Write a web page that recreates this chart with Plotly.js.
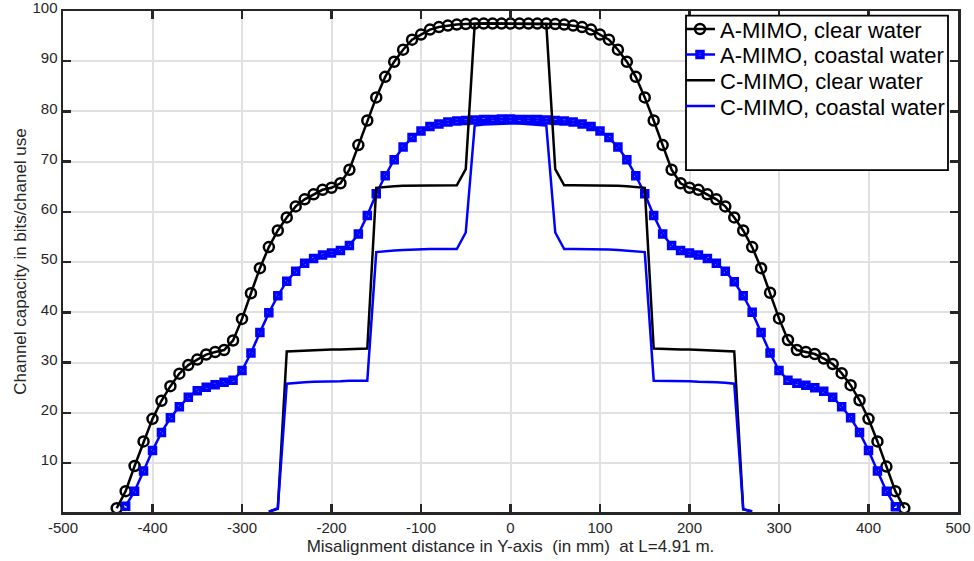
<!DOCTYPE html>
<html>
<head>
<meta charset="utf-8">
<script src="https://cdn.plot.ly/plotly-3.0.1.min.js"></script>
<style>
html, body { margin: 0; padding: 0; background: #ffffff; }
#chart { width: 974px; height: 561px; }
</style>
</head>
<body>
<div id="chart"></div>
<script>
// ---------- data ----------
const seriesNames = ['A-MIMO, clear water', 'A-MIMO, coastal water', 'C-MIMO, clear water', 'C-MIMO, coastal water'];

const xAClear = [-440,-430,-420,-410,-400,-390,-380,-370,-360,-350,-340,-330,-320,-310,-300,-290,-280,-270,-260,-250,-240,-230,-220,-210,-200,-190,-180,-170,-160,-150,-140,-130,-120,-110,-100,-90,-80,-70,-60,-50,-40,-30,-20,-10,0,10,20,30,40,50,60,70,80,90,100,110,120,130,140,150,160,170,180,190,200,210,220,230,240,250,260,270,280,290,300,310,320,330,340,350,360,370,380,390,400,410,420,430,440];
const yAClear = [1.0,4.4,9.4,14.3,18.8,22.4,25.3,27.8,29.5,30.6,31.6,32.1,32.5,34.4,38.7,43.8,48.8,53.0,56.3,58.9,61.1,62.5,63.5,64.4,64.8,65.7,68.4,73.3,78.2,82.8,86.9,89.9,92.3,94.3,95.3,96.3,96.8,97.1,97.3,97.4,97.5,97.5,97.5,97.5,
  97.5,
  97.5,97.5,97.5,97.5,97.4,97.3,97.1,96.8,96.3,95.3,94.3,92.3,89.9,86.9,82.8,78.2,73.3,68.4,65.7,64.8,64.4,63.5,62.5,61.1,58.9,56.3,53.0,48.8,43.9,38.8,34.5,32.5,32.1,31.7,30.8,29.7,27.9,25.5,22.5,18.8,14.3,9.3,4.4,1.0];

const xACoastal = [-430,-420,-410,-400,-390,-380,-370,-360,-350,-340,-330,-320,-310,-300,-290,-280,-270,-260,-250,-240,-230,-220,-210,-200,-190,-180,-170,-160,-150,-140,-130,-120,-110,-100,-90,-80,-70,-60,-50,-40,-30,-20,-10,0,10,20,30,40,50,60,70,80,90,100,110,120,130,140,150,160,170,180,190,200,210,220,230,240,250,260,270,280,290,300,310,320,330,340,350,360,370,380,390,400,410,420,430];
const yACoastal = [1.4,4.4,8.4,12.5,16.1,19.0,21.2,23.1,24.4,25.1,25.6,26.1,26.5,28.4,31.9,36.0,39.9,43.3,46.2,48.2,49.8,50.7,51.4,51.8,52.3,53.3,55.6,59.3,63.6,67.2,70.4,72.9,74.8,76.1,77.0,77.5,77.9,78.1,78.2,78.3,78.4,78.4,78.5,
  78.5,
  78.4,78.4,78.4,78.3,78.2,78.1,77.9,77.5,77.0,76.1,74.8,72.9,70.4,67.2,63.6,59.3,55.6,53.3,52.3,51.8,51.4,50.7,49.8,48.2,46.1,43.3,40.0,36.0,31.9,28.4,26.5,25.9,25.5,25.0,24.3,23.1,21.2,19.0,16.1,12.5,8.4,4.4,1.3];

const xC = [-270,-260,-250,-240,-230,-220,-210,-200,-190,-180,-170,-160,-150,-140,-130,-120,-110,-100,-90,-80,-70,-60,-50,-40,-30,-20,-10,0,10,20,30,40,50,60,70,80,90,100,110,120,130,140,150,160,170,180,190,200,210,220,230,240,250,260,270];
const yCClear = [0.3,0.9,32.2,32.3,32.4,32.5,32.5,32.6,32.6,32.7,32.7,32.8,64.8,65.0,65.1,65.2,65.2,65.3,65.3,65.3,65.3,65.3,68.5,97.4,97.5,97.5,97.5,
  97.5,
  97.5,97.5,97.5,97.4,68.5,65.3,65.3,65.3,65.3,65.3,65.2,65.2,65.1,65.0,64.8,32.8,32.7,32.7,32.6,32.6,32.5,32.5,32.4,32.3,32.2,0.8,0.3];
const yCCoastal = [0.3,1.0,25.8,26.0,26.1,26.2,26.2,26.3,26.3,26.4,26.4,26.4,52.0,52.2,52.3,52.4,52.5,52.5,52.6,52.6,52.6,52.6,55.9,77.2,77.4,77.5,77.6,
  77.6,
  77.6,77.5,77.4,77.2,55.9,52.6,52.6,52.6,52.6,52.5,52.5,52.4,52.3,52.2,52.0,26.4,26.4,26.4,26.3,26.3,26.2,26.2,26.1,26.0,25.8,0.8,0.4];

const xTickVals = [-500,-400,-300,-200,-100,0,100,200,300,400,500];
const xTickText = ['-500','-400','-300','-200','-100','0','100','200','300','400','500'];
const yTickVals = [10,20,30,40,50,60,70,80,90,100];
const yTickText = ['10','20','30','40','50','60','70','80','90','100'];

const xTitle = 'Misalignment distance in Y-axis  (in mm)  at L=4.91 m.';
const yTitle = 'Channel capacity in bits/chanel use';

// ---------- traces ----------
const BLUE = 'rgb(0,0,255)';
const traces = [
  { x: xAClear, y: yAClear, name: seriesNames[0], type: 'scatter', mode: 'lines+markers', legend: 'legend',
    line: { color: '#000000', width: 2.5 },
    marker: { symbol: 'circle-open', size: 10, color: '#000000', line: { width: 2.5, color: '#000000' } } },
  { x: xACoastal, y: yACoastal, name: seriesNames[1], type: 'scatter', mode: 'lines+markers', legend: 'legend2',
    line: { color: BLUE, width: 2.5 },
    marker: { symbol: 'square-open', size: 6, color: BLUE, line: { width: 3.5, color: BLUE } } },
  { x: xC, y: yCClear, name: seriesNames[2], type: 'scatter', mode: 'lines', legend: 'legend3',
    line: { color: '#000000', width: 2.5 } },
  { x: xC, y: yCCoastal, name: seriesNames[3], type: 'scatter', mode: 'lines', legend: 'legend4',
    line: { color: BLUE, width: 2.5 } }
];

// ---------- layout ----------
const ML = 63, MR = 16, MT = 8, MB = 49, W = 974, H = 561;
const PW = W - ML - MR, PH = H - MT - MB;
const px2x = p => (p - ML) / PW;
const px2y = p => (H - MB - p) / PH;

function legendAt(yPix) {
  return { x: px2x(680), y: px2y(yPix), xanchor: 'left', yanchor: 'middle',
    bgcolor: 'rgba(0,0,0,0)', borderwidth: 0, font: { size: 22, color: '#000000' } };
}

const axisCommon = {
  showgrid: true, gridcolor: '#e1e1e1', gridwidth: 2,
  zeroline: false, showline: true, linecolor: '#262626', linewidth: 2.5,
  mirror: 'ticks', ticks: 'inside', ticklen: 8, tickwidth: 2.5, tickcolor: '#262626',
  tickfont: { size: 15, color: '#262626' }, tickmode: 'array', ticklabeloverflow: 'allow'
};

const layout = {
  width: W, height: H,
  margin: { l: ML, r: MR, t: MT, b: MB },
  paper_bgcolor: '#ffffff', plot_bgcolor: '#ffffff',
  font: { family: 'Liberation Sans, Arial, Helvetica, sans-serif', color: '#262626' },
  showlegend: true,
  xaxis: Object.assign({}, axisCommon, {
    range: [-500, 500], tickvals: xTickVals, ticktext: xTickText,
    title: { text: xTitle, font: { size: 17, color: '#262626' }, standoff: 6 }
  }),
  yaxis: Object.assign({}, axisCommon, {
    range: [0.25, 100], tickvals: yTickVals, ticktext: yTickText, ticklabelshift: -3,
    title: { text: yTitle, font: { size: 17, color: '#262626' }, standoff: 2 }
  }),
  legend: legendAt(26.3),
  legend2: legendAt(52.0),
  legend3: legendAt(77.8),
  legend4: legendAt(103.7),
  shapes: [{
    type: 'rect', xref: 'paper', yref: 'paper', layer: 'above',
    x0: px2x(686), x1: px2x(948), y0: px2y(168), y1: px2y(12.7),
    line: { color: '#000000', width: 1.8 }, fillcolor: '#ffffff'
  }]
};

Plotly.newPlot('chart', traces, layout, { staticPlot: true, displayModeBar: false });
</script>
</body>
</html>
